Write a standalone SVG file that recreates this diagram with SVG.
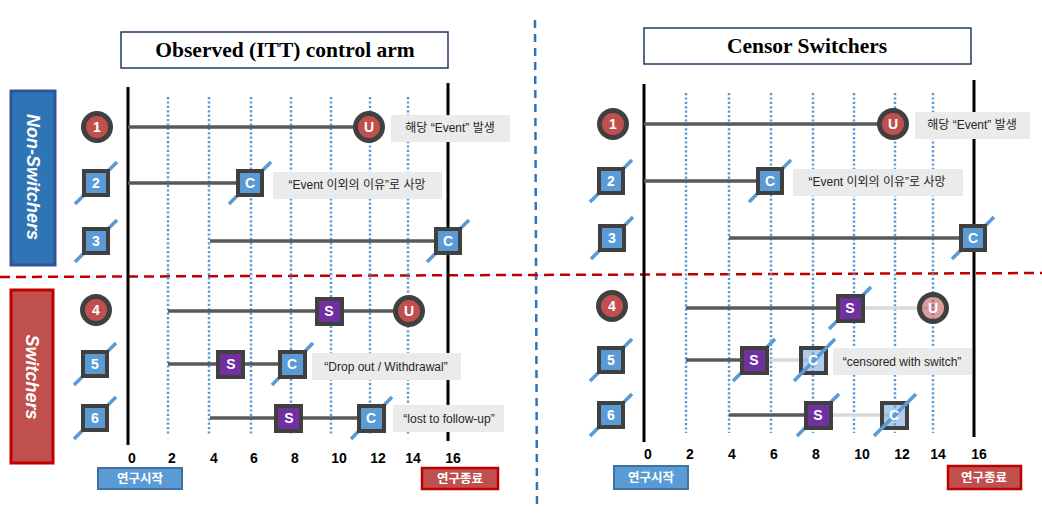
<svg xmlns="http://www.w3.org/2000/svg" width="1042" height="525" viewBox="0 0 1042 525">
<style>
.title{font-family:"Liberation Serif",serif;font-weight:bold;font-size:21.5px;fill:#000;text-anchor:middle}
.tbox{fill:#fff;stroke:#1f3864;stroke-width:1.5}
.axis{stroke:#000;stroke-width:3}
.grid{stroke:#5b9bd5;stroke-width:2.5;stroke-dasharray:2.2 2.2}
.tick{font-family:"Liberation Sans",Arial,sans-serif;font-weight:bold;font-size:14px;fill:#000;text-anchor:middle}
.tl{stroke:#595959;stroke-width:3.5}
.tlf{stroke:#d9d9d9;stroke-width:3.5}
.circ{fill:#c0504d;stroke:#404040;stroke-width:5}
.circf{fill:#c0504d;fill-opacity:0.55;stroke:#404040;stroke-width:5}
.sq{fill:#5b9bd5;stroke:#404040;stroke-width:4}
.sqf{fill:#5b9bd5;fill-opacity:0.5;stroke:#404040;stroke-width:4}
.sqs{fill:#7030a0;stroke:#404040;stroke-width:4}
.slash{stroke:#5b9bd5;stroke-width:3.5}
.lbl{font-family:"Liberation Sans",Arial,sans-serif;font-weight:bold;font-size:14px;fill:#fff;text-anchor:middle}
.lblf{font-family:"Liberation Sans",Arial,sans-serif;font-weight:bold;font-size:14px;fill:#fff;text-anchor:middle}
.note{fill:#ebebeb}
.ntxt{font-family:"Liberation Sans","Noto Sans CJK KR",sans-serif;font-size:12px;fill:#262626;text-anchor:middle}
.cat{font-family:"Liberation Sans",Arial,sans-serif;font-weight:bold;font-style:italic;font-size:18px;fill:#fff;text-anchor:middle}
.kbtxt{font-family:"Noto Sans CJK KR",sans-serif;font-weight:bold;font-size:12.5px;fill:#fff;text-anchor:middle}
</style>

<!-- dividers -->
<g id="dividers">
  <line x1="535" y1="20" x2="537" y2="505" stroke="#2e75b6" stroke-width="2.5" stroke-dasharray="8 6"/>
  <line x1="0" y1="277" x2="1042" y2="273" stroke="#c00000" stroke-width="2.5" stroke-dasharray="10 6"/>
</g>

<!-- category boxes -->
<g id="cat-nonswitchers">
  <rect x="11" y="91" width="44" height="174" fill="#2e75b6" stroke="#2f5597" stroke-width="3"/>
  <text class="cat" transform="translate(27,177) rotate(90)">Non-Switchers</text>
</g>
<g id="cat-switchers">
  <rect x="11" y="290" width="42" height="173" fill="#c0504d" stroke="#c00000" stroke-width="3"/>
  <text class="cat" transform="translate(26,377) rotate(90)">Switchers</text>
</g>

<!-- LEFT PANEL frame -->
<g id="left-title">
  <rect class="tbox" x="121" y="32" width="327" height="36"/>
  <text class="title" x="285" y="57">Observed (ITT) control arm</text>
</g>
<g id="left-grid">
  <line class="grid" x1="168" y1="97" x2="168" y2="435"/>
  <line class="grid" x1="209" y1="97" x2="209" y2="435"/>
  <line class="grid" x1="251" y1="97" x2="251" y2="435"/>
  <line class="grid" x1="291" y1="97" x2="291" y2="435"/>
  <line class="grid" x1="331" y1="97" x2="331" y2="435"/>
  <line class="grid" x1="370" y1="97" x2="370" y2="435"/>
  <line class="grid" x1="408" y1="97" x2="408" y2="435"/>
  <line class="axis" x1="128" y1="87" x2="128" y2="445"/>
  <line class="axis" x1="448" y1="83" x2="448" y2="441"/>
  <text class="tick" x="132" y="463">0</text>
  <text class="tick" x="172" y="463">2</text>
  <text class="tick" x="214" y="463">4</text>
  <text class="tick" x="254" y="463">6</text>
  <text class="tick" x="295" y="463">8</text>
  <text class="tick" x="339" y="463">10</text>
  <text class="tick" x="378" y="463">12</text>
  <text class="tick" x="413" y="463">14</text>
  <text class="tick" x="453" y="463">16</text>
</g>

<!-- RIGHT PANEL frame -->
<g id="right-title">
  <rect class="tbox" x="644" y="28" width="327" height="36"/>
  <text class="title" x="807" y="53">Censor Switchers</text>
</g>
<g id="right-grid">
  <line class="grid" x1="686" y1="93" x2="686" y2="433"/>
  <line class="grid" x1="729" y1="93" x2="729" y2="433"/>
  <line class="grid" x1="771" y1="93" x2="771" y2="433"/>
  <line class="grid" x1="813" y1="93" x2="813" y2="433"/>
  <line class="grid" x1="854" y1="93" x2="854" y2="433"/>
  <line class="grid" x1="895" y1="93" x2="895" y2="433"/>
  <line class="grid" x1="933" y1="93" x2="933" y2="433"/>
  <line class="axis" x1="644" y1="84" x2="644" y2="442"/>
  <line class="axis" x1="974" y1="80" x2="974" y2="437"/>
  <text class="tick" x="648" y="459">0</text>
  <text class="tick" x="690" y="459">2</text>
  <text class="tick" x="732" y="459">4</text>
  <text class="tick" x="774" y="459">6</text>
  <text class="tick" x="816" y="459">8</text>
  <text class="tick" x="862" y="459">10</text>
  <text class="tick" x="902" y="459">12</text>
  <text class="tick" x="938" y="459">14</text>
  <text class="tick" x="979" y="459">16</text>
</g>

<!-- connectors (timelines) -->
<g id="connectors">
  <line class="tl" x1="128" y1="127" x2="369" y2="127"/>
  <line class="tl" x1="128" y1="183" x2="250" y2="183"/>
  <line class="tl" x1="210" y1="241" x2="448" y2="241"/>
  <line class="tl" x1="168" y1="311" x2="409" y2="311"/>
  <line class="tl" x1="168" y1="364" x2="292" y2="364"/>
  <line class="tl" x1="210" y1="418" x2="371" y2="418"/>

  <line class="tl" x1="644" y1="124" x2="893" y2="124"/>
  <line class="tl" x1="644" y1="181" x2="770" y2="181"/>
  <line class="tl" x1="729" y1="238" x2="973" y2="238"/>
  <line class="tl" x1="686" y1="308" x2="850" y2="308"/>
  <line class="tlf" x1="850" y1="308" x2="933" y2="308"/>
  <line class="tl" x1="686" y1="360" x2="754" y2="360"/>
  <line class="tlf" x1="754" y1="360" x2="813" y2="360"/>
  <line class="tl" x1="729" y1="415" x2="818" y2="415"/>
  <line class="tlf" x1="818" y1="415" x2="894" y2="415"/>
</g>

<!-- LEFT PANEL nodes -->
<g id="L-p1">
  <circle class="circ" cx="97" cy="127" r="13.5"/>
  <text class="lbl" x="97" y="132">1</text>
</g>
<g id="L-p2">
  <line class="slash" x1="75" y1="204" x2="117" y2="162"/>
  <rect class="sq" x="84" y="171" width="24" height="24"/>
  <text class="lbl" x="96" y="188">2</text>
</g>
<g id="L-p3">
  <line class="slash" x1="75" y1="262" x2="117" y2="220"/>
  <rect class="sq" x="84" y="229" width="24" height="24"/>
  <text class="lbl" x="96" y="246">3</text>
</g>
<g id="L-p4">
  <circle class="circ" cx="96" cy="310" r="13.5"/>
  <text class="lbl" x="96" y="315">4</text>
</g>
<g id="L-p5">
  <line class="slash" x1="74" y1="385" x2="116" y2="343"/>
  <rect class="sq" x="83" y="352" width="24" height="24"/>
  <text class="lbl" x="95" y="369">5</text>
</g>
<g id="L-p6">
  <line class="slash" x1="74" y1="439" x2="116" y2="397"/>
  <rect class="sq" x="83" y="406" width="24" height="24"/>
  <text class="lbl" x="95" y="423">6</text>
</g>

<g id="L-r1-U">
  <circle class="circ" cx="369" cy="127" r="13.5"/>
  <text class="lbl" x="369" y="132">U</text>
</g>
<g id="L-r1-note">
  <rect class="note" x="391" y="115" width="119" height="27"/>
  <text class="ntxt" x="450" y="132">해당 “Event” 발생</text>
</g>
<g id="L-r2-C">
  <line class="slash" x1="229" y1="204" x2="271" y2="162"/>
  <rect class="sq" x="238" y="171" width="24" height="24"/>
  <text class="lbl" x="250" y="188">C</text>
</g>
<g id="L-r2-note">
  <rect class="note" x="273" y="172" width="169" height="27"/>
  <text class="ntxt" x="357" y="189">“Event 이외의 이유”로 사망</text>
</g>
<g id="L-r3-C">
  <line class="slash" x1="427" y1="262" x2="469" y2="220"/>
  <rect class="sq" x="436" y="229" width="24" height="24"/>
  <text class="lbl" x="448" y="246">C</text>
</g>
<g id="L-r4-S">
  <rect class="sqs" x="317" y="299" width="25" height="25"/>
  <text class="lbl" x="329" y="316">S</text>
</g>
<g id="L-r4-U">
  <circle class="circ" cx="409" cy="311" r="13.5"/>
  <text class="lbl" x="409" y="316">U</text>
</g>
<g id="L-r5-S">
  <rect class="sqs" x="218" y="352" width="25" height="25"/>
  <text class="lbl" x="231" y="369">S</text>
</g>
<g id="L-r5-C">
  <line class="slash" x1="272" y1="385" x2="313" y2="343"/>
  <rect class="sq" x="280" y="352" width="25" height="25"/>
  <text class="lbl" x="292" y="369">C</text>
</g>
<g id="L-r5-note">
  <rect class="note" x="312" y="353" width="149" height="27"/>
  <text class="ntxt" x="386" y="371">“Drop out / Withdrawal”</text>
</g>
<g id="L-r6-S">
  <rect class="sqs" x="276" y="406" width="25" height="25"/>
  <text class="lbl" x="289" y="423">S</text>
</g>
<g id="L-r6-C">
  <line class="slash" x1="351" y1="439" x2="392" y2="397"/>
  <rect class="sq" x="359" y="406" width="25" height="25"/>
  <text class="lbl" x="371" y="423">C</text>
</g>
<g id="L-r6-note">
  <rect class="note" x="393" y="405" width="111" height="27"/>
  <text class="ntxt" x="449" y="423">“lost to follow-up”</text>
</g>

<!-- RIGHT PANEL nodes -->
<g id="R-p1">
  <circle class="circ" cx="613" cy="124" r="13.5"/>
  <text class="lbl" x="613" y="129">1</text>
</g>
<g id="R-p2">
  <line class="slash" x1="590" y1="202" x2="632" y2="160"/>
  <rect class="sq" x="599" y="169" width="24" height="24"/>
  <text class="lbl" x="611" y="186">2</text>
</g>
<g id="R-p3">
  <line class="slash" x1="591" y1="259" x2="633" y2="217"/>
  <rect class="sq" x="600" y="226" width="24" height="24"/>
  <text class="lbl" x="612" y="243">3</text>
</g>
<g id="R-p4">
  <circle class="circ" cx="612" cy="306" r="13.5"/>
  <text class="lbl" x="612" y="311">4</text>
</g>
<g id="R-p5">
  <line class="slash" x1="590" y1="381" x2="632" y2="339"/>
  <rect class="sq" x="599" y="348" width="24" height="24"/>
  <text class="lbl" x="611" y="365">5</text>
</g>
<g id="R-p6">
  <line class="slash" x1="590" y1="436" x2="632" y2="394"/>
  <rect class="sq" x="599" y="403" width="24" height="24"/>
  <text class="lbl" x="611" y="420">6</text>
</g>

<g id="R-r1-U">
  <circle class="circ" cx="893" cy="124" r="13.5"/>
  <text class="lbl" x="893" y="129">U</text>
</g>
<g id="R-r1-note">
  <rect class="note" x="915" y="112" width="115" height="27"/>
  <text class="ntxt" x="972" y="129">해당 “Event” 발생</text>
</g>
<g id="R-r2-C">
  <line class="slash" x1="749" y1="202" x2="791" y2="160"/>
  <rect class="sq" x="758" y="169" width="24" height="24"/>
  <text class="lbl" x="770" y="186">C</text>
</g>
<g id="R-r2-note">
  <rect class="note" x="793" y="169" width="170" height="27"/>
  <text class="ntxt" x="877" y="186">“Event 이외의 이유”로 사망</text>
</g>
<g id="R-r3-C">
  <line class="slash" x1="952" y1="259" x2="994" y2="217"/>
  <rect class="sq" x="961" y="226" width="24" height="24"/>
  <text class="lbl" x="973" y="243">C</text>
</g>
<g id="R-r4-S">
  <line class="slash" x1="829" y1="329" x2="871" y2="287"/>
  <rect class="sqs" x="838" y="296" width="25" height="25"/>
  <text class="lbl" x="850" y="313">S</text>
</g>
<g id="R-r4-U">
  <circle class="circf" cx="933" cy="308" r="13.5"/>
  <text class="lblf" x="933" y="313">U</text>
</g>
<g id="R-r5-S">
  <line class="slash" x1="733" y1="381" x2="775" y2="339"/>
  <rect class="sqs" x="742" y="348" width="25" height="25"/>
  <text class="lbl" x="754" y="365">S</text>
</g>
<g id="R-r5-C">
  <rect class="sqf" x="801" y="348" width="25" height="25"/>
  <line class="slash" x1="794" y1="381" x2="835" y2="339"/>
  <text class="lblf" x="813" y="365">C</text>
</g>
<g id="R-r5-note">
  <rect class="note" x="833" y="348" width="139" height="27"/>
  <text class="ntxt" x="902" y="366">“censored with switch”</text>
</g>
<g id="R-r6-S">
  <line class="slash" x1="797" y1="436" x2="839" y2="394"/>
  <rect class="sqs" x="806" y="403" width="25" height="25"/>
  <text class="lbl" x="818" y="420">S</text>
</g>
<g id="R-r6-C">
  <rect class="sqf" x="882" y="403" width="25" height="25"/>
  <line class="slash" x1="874" y1="436" x2="916" y2="394"/>
  <text class="lblf" x="894" y="420">C</text>
</g>

<!-- bottom labels -->
<g id="L-start">
  <rect x="98" y="468" width="84" height="21" fill="#5b9bd5" stroke="#41719c" stroke-width="2"/>
  <text class="kbtxt" x="140" y="483">연구시작</text>
</g>
<g id="L-end">
  <rect x="422" y="468" width="76" height="21" fill="#c0504d" stroke="#c00000" stroke-width="2.5"/>
  <text class="kbtxt" x="460" y="483">연구종료</text>
</g>
<g id="R-start">
  <rect x="614" y="466" width="74" height="23" fill="#5b9bd5" stroke="#41719c" stroke-width="2"/>
  <text class="kbtxt" x="651" y="482">연구시작</text>
</g>
<g id="R-end">
  <rect x="948" y="466" width="73" height="23" fill="#c0504d" stroke="#c00000" stroke-width="2.5"/>
  <text class="kbtxt" x="984" y="482">연구종료</text>
</g>
</svg>
